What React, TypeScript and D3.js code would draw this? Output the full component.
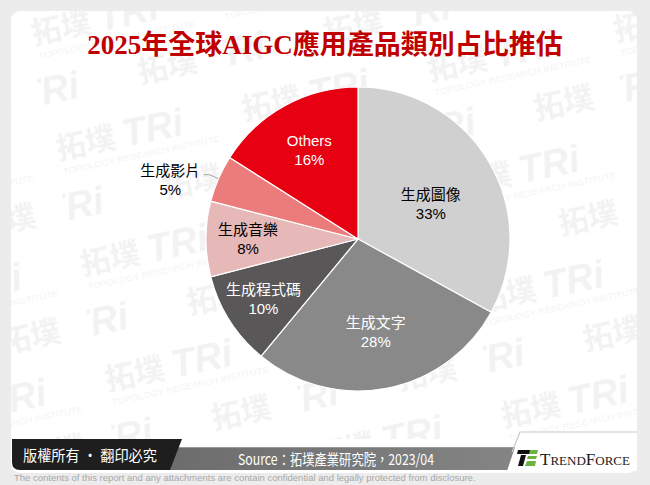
import React from 'react';
import { arc, pie, PieArcDatum } from 'd3';

const TITLE = '2025年全球AIGC應用產品類別占比推估';
const CATEGORIES = ['生成圖像', '生成文字', '生成程式碼', '生成音樂', '生成影片', 'Others'];
const SHARES = [33, 28, 10, 8, 5, 16];
const COLORS = ['#d0d0d0', '#898989', '#595757', '#e6b8b7', '#ec7b7b', '#e60012'];
const LABEL_COLORS = ['#000', '#fff', '#fff', '#000', '#000', '#fff'];
const SOURCE = 'Source：拓墣產業研究院，2023/04';
const COPYRIGHT = '版權所有 · 翻印必究';
const DISCLAIMER =
  'The contents of this report and any attachments are contain confidential and legally protected from disclosure.';

const WIDTH = 650;
const HEIGHT = 485;
const CX = 358;
const CY = 239;
const RADIUS = 152;

// label placement tweaks (radius from centre, extra nudge), outside = leader line
const LABEL_LAYOUT: Record<string, { r: number; dx?: number; dy?: number; outside?: boolean }> = {
  生成圖像: { r: 80, dx: 4, dy: 6 },
  生成文字: { r: 95 },
  生成程式碼: { r: 112 },
  生成音樂: { r: 110 },
  生成影片: { r: 0, outside: true },
  Others: { r: 101 },
};

const LABEL_FONT = '"Liberation Sans", "Noto Sans CJK TC", sans-serif';

type Slice = { name: string; value: number; color: string; text: string };

const data: Slice[] = CATEGORIES.map((name, i) => ({
  name,
  value: SHARES[i],
  color: COLORS[i],
  text: LABEL_COLORS[i],
}));

const polar = (angle: number, r: number): [number, number] => [
  CX + r * Math.sin(angle),
  CY - r * Math.cos(angle),
];

const Watermark = () => (
  <pattern
    id="wm"
    width={190}
    height={118}
    patternUnits="userSpaceOnUse"
    patternTransform="rotate(-12) translate(20 10)"
  >
    <g fill="#f2f2f2" fontFamily='"Noto Sans CJK TC", sans-serif' fontWeight={700}>
      <text x={4} y={40} fontSize={30}>
        拓墣
      </text>
      <text x={72} y={42} fontSize={38} fontFamily='"Liberation Sans", sans-serif' fontStyle="italic">
        TRi
      </text>
      <text x={6} y={56} fontSize={9.5} fontWeight={400} fontFamily='"Liberation Sans", sans-serif'>
        TOPOLOGY RESEARCH INSTITUTE
      </text>
      <text x={100} y={100} fontSize={30}>
        拓墣
      </text>
      <text x={-22} y={102} fontSize={38} fontFamily='"Liberation Sans", sans-serif' fontStyle="italic">
        TRi
      </text>
    </g>
  </pattern>
);

const App = () => {
  const pieGen = pie<Slice>()
    .value((d) => d.value)
    .sort(null);
  const arcs = pieGen(data);
  const arcGen = arc<PieArcDatum<Slice>>().innerRadius(0).outerRadius(RADIUS);

  return (
    <svg
      width={WIDTH}
      height={HEIGHT}
      viewBox={`0 0 ${WIDTH} ${HEIGHT}`}
      style={{ position: 'absolute', left: 0, top: 0, display: 'block' }}
    >
      <defs>
        <Watermark />
        <linearGradient id="bar" x1="0" x2="1" y1="0" y2="0">
          <stop offset="0" stopColor="#6c6c6c" />
          <stop offset="1" stopColor="#858585" />
        </linearGradient>
      </defs>

      {/* page + card */}
      <rect width={WIDTH} height={HEIGHT} fill="#ececec" />
      <rect x={11} y={11} width={626} height={462} rx={9} fill="#fff" />
      <rect x={11} y={11} width={626} height={428} rx={9} fill="url(#wm)" />

      {/* title */}
      <text
        x={325}
        y={54}
        textAnchor="middle"
        fontFamily='"Liberation Serif", "Noto Sans CJK TC", serif'
        fontWeight={700}
        fontSize={27}
        fill="#c00000"
      >
        {TITLE}
      </text>

      {/* pie */}
      <g transform={`translate(${CX},${CY})`}>
        {arcs.map((a) => (
          <path key={a.data.name} d={arcGen(a) || ''} fill={a.data.color} stroke="#fff" strokeWidth={1.2} />
        ))}
      </g>

      {/* labels */}
      <g fontFamily={LABEL_FONT} fontSize={15} textAnchor="middle">
        {arcs.map((a) => {
          const lay = LABEL_LAYOUT[a.data.name];
          const mid = (a.startAngle + a.endAngle) / 2;
          if (lay.outside) {
            const p0 = polar(mid, RADIUS);
            const p1 = polar(mid, RADIUS + 10);
            const p2: [number, number] = [p1[0] - 6, p1[1]];
            const tx = p2[0] - 33;
            return (
              <g key={a.data.name}>
                <polyline
                  points={[p0, p1, p2].map((p) => p.join(',')).join(' ')}
                  fill="none"
                  stroke="#a6a6a6"
                  strokeWidth={1}
                />
                <text x={tx} y={p1[1] - 4} dominantBaseline="central" fill={a.data.text}>
                  {a.data.name}
                </text>
                <text x={tx} y={p1[1] + 15} dominantBaseline="central" fill={a.data.text}>
                  {`${a.data.value}%`}
                </text>
              </g>
            );
          }
          const [x, y] = polar(mid, lay.r);
          const lx = x + (lay.dx || 0);
          const ly = y + (lay.dy || 0);
          return (
            <g key={a.data.name} fill={a.data.text}>
              <text x={lx} y={ly - 9.5} dominantBaseline="central">
                {a.data.name}
              </text>
              <text x={lx} y={ly + 9.5} dominantBaseline="central">
                {`${a.data.value}%`}
              </text>
            </g>
          );
        })}
      </g>

      {/* footer */}
      <path d="M165,447 L525,447 L515,470 L160,470 Z" fill="url(#bar)" />
      <line x1={170} x2={525} y1={447.5} y2={447.5} stroke="#9a9a9a" strokeWidth={1} />
      <path d="M12,439 L182,439 L170,470 L20,470 Q12,470 12,462 Z" fill="#1e1e1e" />
      <text
        x={23}
        y={461}
        fill="#fff"
        fontSize={15}
        fontFamily='"Noto Sans CJK TC", sans-serif'
        textLength={134}
        lengthAdjust="spacingAndGlyphs"
      >
        {COPYRIGHT}
      </text>
      <text
        x={238}
        y={465}
        fill="#fff"
        fontSize={15}
        fontFamily='"Liberation Sans Narrow", "Noto Sans CJK TC", sans-serif'
        textLength={196}
        lengthAdjust="spacingAndGlyphs"
      >
        {SOURCE}
      </text>

      {/* logo box */}
      <path d="M520,432 L637,432 L637,471 L507,471 Z" fill="#fff" />
      <path d="M512,452 L520,432 L637,432" fill="none" stroke="#c8c8c8" strokeWidth={1.2} />
      <g>
        <path d="M518,450 L531,450 L530,454 L517,454 Z" fill="#111" />
        <path d="M521,455 L526,455 L523,466 L518,466 Z" fill="#111" />
        <path d="M530,450 L538,450 L537,454 L529,454 Z" fill="#6cb33f" />
        <path d="M528,456 L537,456 L536,459 L527,459 Z" fill="#6cb33f" />
        <path d="M527,461 L536,461 L535,466 L525,466 Z" fill="#6cb33f" />
      </g>
      <text
        x={540}
        y={465}
        fontFamily='"Liberation Serif", serif'
        fill="#1a1a1a"
        fontSize={17}
      >
        T<tspan fontSize={13}>REND</tspan>F<tspan fontSize={13}>ORCE</tspan>
      </text>

      <text
        x={14}
        y={481}
        fill="#a8a8a8"
        fontSize={9.5}
        fontFamily='"Liberation Sans", sans-serif'
      >
        {DISCLAIMER}
      </text>
    </svg>
  );
};

export default App;
